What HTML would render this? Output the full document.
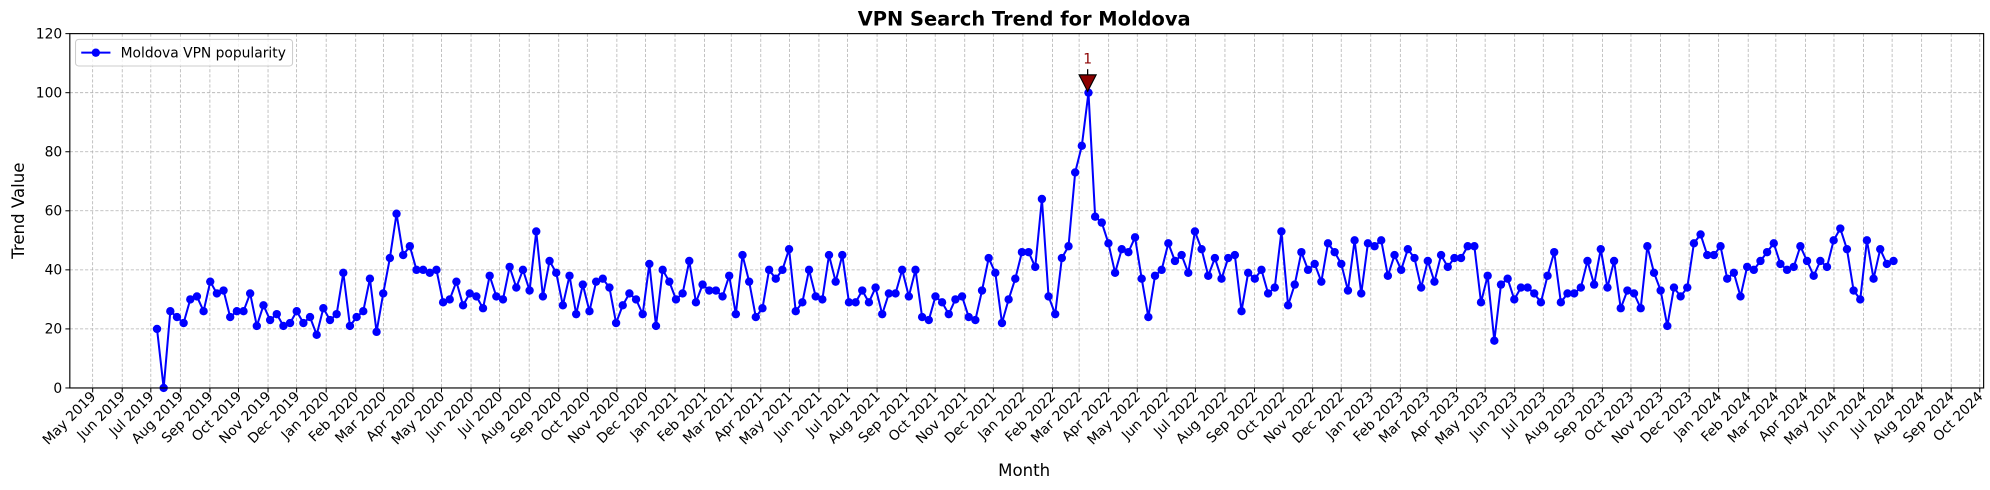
<!DOCTYPE html>
<html><head><meta charset="utf-8"><style>
html,body{margin:0;padding:0;background:#fff;}
svg{display:block;font-family:"DejaVu Sans","Liberation Sans",sans-serif;}
</style></head><body>
<svg id="c" width="1990" height="490" viewBox="0 0 1568 386.1" xmlns="http://www.w3.org/2000/svg">
<rect x="0" y="0" width="1568" height="386.1" fill="#fff"/>
<g id="grid"></g>
<g id="series"></g>
<rect x="55" y="26.5" width="1508" height="279.2" fill="none" stroke="#000" stroke-width="0.9"/>
<g id="axes"></g>
<text x="807" y="20" text-anchor="middle" font-size="15.3" font-weight="bold">VPN Search Trend for Moldova</text>
<text x="807" y="375" text-anchor="middle" font-size="13.1">Month</text>
<text transform="translate(19,166) rotate(-90)" text-anchor="middle" font-size="13.1">Trend Value</text>
<g>
<rect x="59.5" y="31" width="171" height="21" rx="2.5" fill="#fff" fill-opacity="0.8" stroke="#ccc" stroke-width="0.8"/>
<line x1="64" y1="41.5" x2="87" y2="41.5" stroke="#0000ff" stroke-width="1.6"/>
<circle cx="75.5" cy="41.5" r="3.3" fill="#0000ff"/>
<text x="95" y="45.5" font-size="10.9">Moldova VPN popularity</text>
</g>
<line x1="857" y1="54.5" x2="857" y2="59" stroke="#000" stroke-width="1"/>
<polygon points="850.3,59 863.7,59 857,72" fill="#8b0000" stroke="#000" stroke-width="0.9"/>
<text x="857" y="50" text-anchor="middle" font-size="10.9" fill="#8b0000">1</text>
</svg>
<script>
var NS="http://www.w3.org/2000/svg";
function el(t,a,p,txt){var e=document.createElementNS(NS,t);for(var k in a)e.setAttribute(k,a[k]);if(txt!==undefined)e.textContent=txt;p.appendChild(e);return e;}
var grid=document.getElementById('grid'),axes=document.getElementById('axes'),ser=document.getElementById('series');
function Y(v){return 305.7-v*2.3267;}
for(var v=0;v<=120;v+=20){var y=Y(v);
 if(v>0&&v<120)el('line',{x1:55,x2:1563,y1:y,y2:y,stroke:'#b0b0b0','stroke-width':0.6,'stroke-dasharray':'2.5,1.5'},grid);
 el('line',{x1:51.5,x2:55,y1:y,y2:y,stroke:'#000','stroke-width':0.8},axes);
 el('text',{x:49,y:y+3.8,'text-anchor':'end','font-size':10.9},axes,String(v));}
var M=['Jan','Feb','Mar','Apr','May','Jun','Jul','Aug','Sep','Oct','Nov','Dec'];
var base=Date.UTC(2019,4,1);
for(var i=0;i<66;i++){var mo=(4+i)%12,yr=2019+Math.floor((4+i)/12);
 var d=(Date.UTC(yr,mo,1)-base)/86400000;var x=73+d*0.7510;
 el('line',{x1:x,x2:x,y1:26.5,y2:305.7,stroke:'#b0b0b0','stroke-width':0.6,'stroke-dasharray':'2.5,1.5'},grid);
 el('line',{x1:x,x2:x,y1:305.7,y2:309.2,stroke:'#000','stroke-width':0.8},axes);
 el('text',{transform:'translate('+(x+3)+',313) rotate(-45)','text-anchor':'end','font-size':10.9},axes,M[mo]+' '+yr);}
var data=[20,0,26,24,22,30,31,26,36,32,33,24,26,26,32,21,28,23,25,21,22,26,22,24,18,27,23,25,39,21,24,26,37,19,32,44,59,45,48,40,40,39,40,29,30,36,28,32,31,27,38,31,30,41,34,40,33,53,31,43,39,28,38,25,35,26,36,37,34,22,28,32,30,25,42,21,40,36,30,32,43,29,35,33,33,31,38,25,45,36,24,27,40,37,40,47,26,29,40,31,30,45,36,45,29,29,33,29,34,25,32,32,40,31,40,24,23,31,29,25,30,31,24,23,33,44,39,22,30,37,46,46,41,64,31,25,44,48,73,82,100,58,56,49,39,47,46,51,37,24,38,40,49,43,45,39,53,47,38,44,37,44,45,26,39,37,40,32,34,53,28,35,46,40,42,36,49,46,42,33,50,32,49,48,50,38,45,40,47,44,34,43,36,45,41,44,44,48,48,29,38,16,35,37,30,34,34,32,29,38,46,29,32,32,34,43,35,47,34,43,27,33,32,27,48,39,33,21,34,31,34,49,52,45,45,48,37,39,31,41,40,43,46,49,42,40,41,48,43,38,43,41,50,54,47,33,30,50,37,47,42,43];
var n=data.length,pts=[],x0=123.7,x1=1492;
for(var i=0;i<n;i++){var x=x0+i*(x1-x0)/(n-1);pts.push([x,Y(data[i])]);}
el('polyline',{points:pts.map(function(p){return p[0].toFixed(2)+','+p[1].toFixed(2)}).join(' '),fill:'none',stroke:'#0000ff','stroke-width':1.6,'stroke-linejoin':'round'},ser);
pts.forEach(function(p){el('circle',{cx:p[0],cy:p[1],r:3.3,fill:'#0000ff'},ser);});
</script>
</body></html>
